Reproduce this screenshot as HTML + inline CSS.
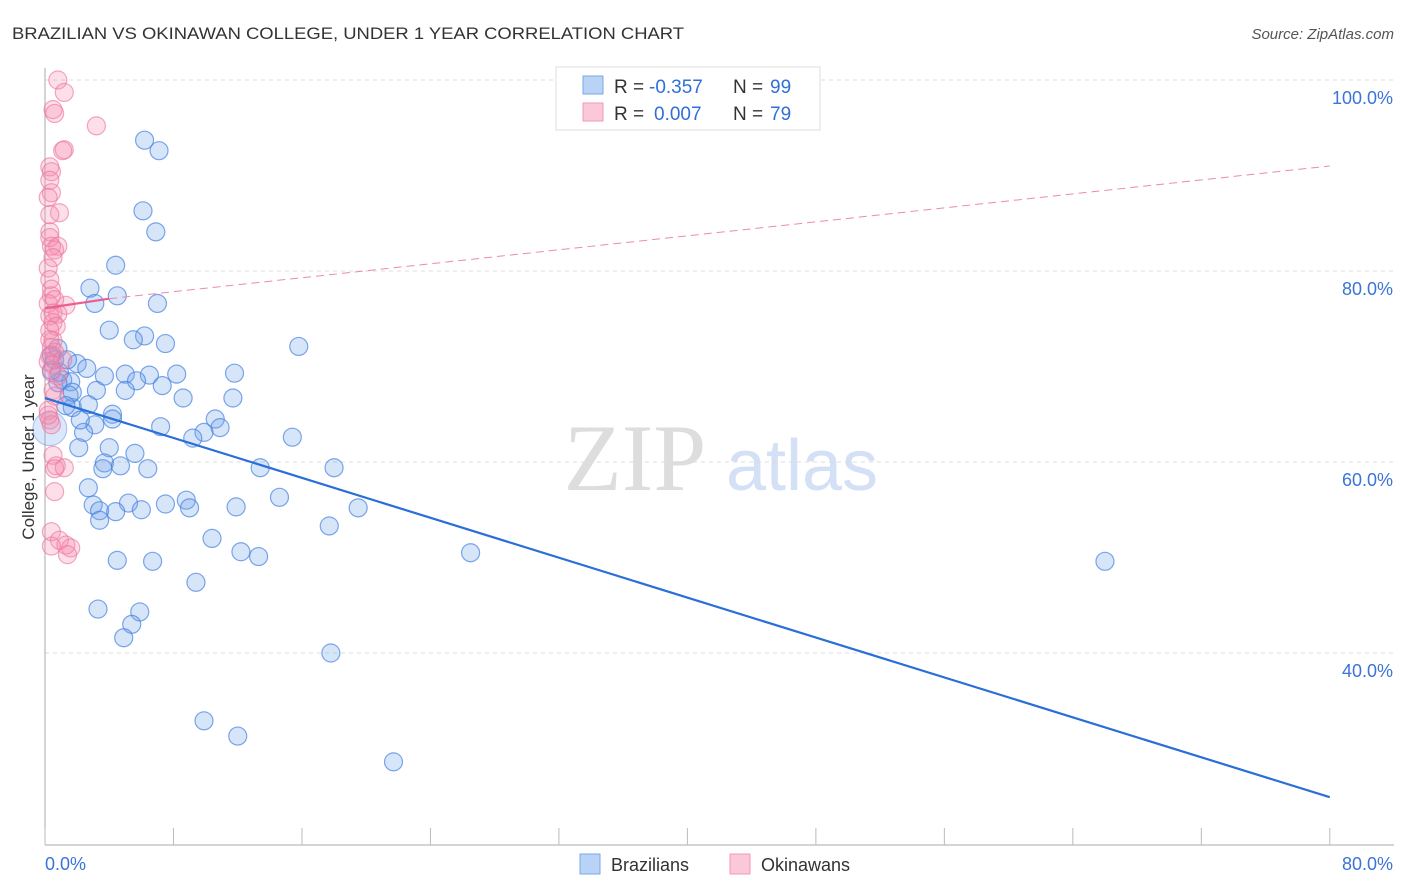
<!DOCTYPE html>
<html><head><meta charset="utf-8"><style>
body{margin:0;background:#fff;font-family:"Liberation Sans",sans-serif}
</style></head><body>
<svg id="c" width="1406" height="892" xmlns="http://www.w3.org/2000/svg" style="display:block">
<text x="12" y="39" font-size="17" fill="#333" textLength="672" lengthAdjust="spacingAndGlyphs">BRAZILIAN VS OKINAWAN COLLEGE, UNDER 1 YEAR CORRELATION CHART</text>
<text x="1394" y="39" font-size="15" fill="#555" font-style="italic" text-anchor="end">Source: ZipAtlas.com</text>
<text x="635" y="490" font-size="95" fill="#ddd" font-family="Liberation Serif" text-anchor="middle">ZIP</text>
<text x="802" y="490" font-size="72" fill="#d3e0f5" text-anchor="middle">atlas</text>
<g id="grid"></g><g id="axes"></g><g id="pts"></g><g id="trend"></g>
<text transform="translate(34,457) rotate(-90)" font-size="17" fill="#333" text-anchor="middle">College, Under 1 year</text>
<g>
<rect x="556" y="67" width="264" height="63" fill="#fff" stroke="#ddd"/>
<rect x="583" y="76" width="20" height="18" fill="#b9d3f6" stroke="#7aa7e6"/>
<rect x="583" y="103" width="20" height="18" fill="#fbc8d7" stroke="#f29ab8"/>
<text x="614" y="93" font-size="19" fill="#333">R =</text>
<text x="649" y="93" font-size="19" fill="#2f6fd6">-0.357</text>
<text x="733" y="93" font-size="19" fill="#333">N =</text>
<text x="770" y="93" font-size="19" fill="#2f6fd6">99</text>
<text x="614" y="120" font-size="19" fill="#333">R =</text>
<text x="654" y="120" font-size="19" fill="#2f6fd6">0.007</text>
<text x="733" y="120" font-size="19" fill="#333">N =</text>
<text x="770" y="120" font-size="19" fill="#2f6fd6">79</text>
</g>
<g>
<rect x="580" y="854" width="20" height="20" fill="#b9d3f6" stroke="#7aa7e6"/>
<text x="611" y="871" font-size="18" fill="#333">Brazilians</text>
<rect x="730" y="854" width="20" height="20" fill="#fbc8d7" stroke="#f29ab8"/>
<text x="761" y="871" font-size="18" fill="#333">Okinawans</text>
</g>
</svg>
<script>
const blueX=[6.2,7.1,6.1,6.9,4.4,2.8,4.5,3.1,7.0,4.0,6.2,5.5,7.5,15.8,0.8,0.4,0.6,2.0,2.6,3.7,5.0,6.5,8.2,11.8,5.7,7.3,1.1,1.6,0.8,3.2,5.0,8.6,11.7,1.5,2.7,1.7,4.2,10.6,4.2,3.1,7.2,10.9,9.9,9.2,15.4,2.4,2.1,4.0,5.6,3.7,3.6,4.7,6.4,13.4,18.0,2.7,14.6,3.0,5.2,8.8,7.5,9.0,11.9,19.5,3.4,4.4,6.0,3.4,17.7,10.4,12.2,13.3,26.5,4.5,6.7,66.0,9.4,3.3,5.9,5.4,4.9,17.8,9.9,12.0,21.7,0.4,0.9,1.4,1.7,1.3,2.2];
const blueY=[93.7,92.6,86.3,84.1,80.6,78.2,77.4,76.6,76.6,73.8,73.2,72.8,72.4,72.1,71.9,71.2,70.7,70.3,69.8,69.0,69.2,69.1,69.2,69.3,68.5,68.0,68.6,68.4,68.3,67.5,67.5,66.7,66.7,67.0,66.0,65.7,65.0,64.5,64.5,63.9,63.7,63.6,63.1,62.5,62.6,63.1,61.5,61.5,60.9,59.9,59.3,59.6,59.3,59.4,59.4,57.3,56.3,55.5,55.7,56.0,55.6,55.2,55.3,55.2,54.9,54.8,55.0,53.9,53.3,52.0,50.6,50.1,50.5,49.7,49.6,49.6,47.4,44.6,44.3,43.0,41.6,40.0,32.9,31.3,28.6,69.6,69.4,70.7,67.3,65.9,64.4];
const pinkX=[0.8,1.2,0.5,0.6,3.2,1.2,1.1,0.3,0.4,0.3,0.4,0.2,0.9,0.3,0.3,0.3,0.8,0.4,0.6,0.5,0.2,0.3,0.4,0.4,0.2,1.3,0.5,0.8,0.3,0.5,0.7,0.3,0.5,0.4,0.6,0.3,0.2,0.5,0.4,0.8,0.5,0.6,0.2,0.3,0.4,0.5,0.7,1.2,0.6,0.6,0.4,0.9,1.3,1.6,1.4,0.4,0.2,0.3,0.6,1.1];
const pinkY=[100,98.7,96.9,96.5,95.2,92.7,92.6,90.9,90.4,89.5,88.2,87.7,86.1,85.9,84.1,83.5,82.6,82.6,82.2,81.4,80.3,79.1,78.1,77.4,76.6,76.4,75.6,75.5,75.3,74.6,74.2,73.8,72.7,72.0,71.5,71.1,70.5,70.2,69.4,69.0,67.5,66.9,65.4,64.4,63.9,60.7,59.6,59.4,59.3,56.9,52.7,51.8,51.3,51.0,50.3,51.2,64.9,72.8,77.0,70.7];
const yTicks=[100,80,60,40];
const blueTrend=[[0,66.7],[80,24.9]];
const pinkTrend=[[0,76.1],[4,77.1],[80,91.0]];
const sx=v=>45+v*16.06, sy=v=>80+(100-v)*9.55;
const NS="http://www.w3.org/2000/svg";
function mk(p,t,a){const e=document.createElementNS(NS,t);for(const k in a)e.setAttribute(k,a[k]);p.appendChild(e);return e;}
const grid=document.getElementById('grid'),axes=document.getElementById('axes'),pts=document.getElementById('pts'),tr=document.getElementById('trend');
yTicks.forEach(v=>{const l=mk(grid,'line',{x1:45,x2:1394,y1:sy(v),y2:sy(v),stroke:'#ddd','stroke-dasharray':'4,4'});


const t=mk(grid,'text',{x:1393,y:sy(v)+24,'font-size':18,fill:'#3a74d8','text-anchor':'end'});t.textContent=v.toFixed(1)+'%';

});
const ya=mk(axes,'line',{x1:45,x2:45,y1:68,y2:845,stroke:'#aaa'});


const xa=mk(axes,'line',{x1:45,x2:1394,y1:845,y2:845,stroke:'#aaa'});


for(let i=0;i<=10;i++){const t=mk(axes,'line',{x1:sx(i*8),x2:sx(i*8),y1:828,y2:845,stroke:'#bbb'});

}
const x0=mk(axes,'text',{x:45,y:870,'font-size':18,fill:'#3a74d8'});x0.textContent='0.0%';


const x1=mk(axes,'text',{x:1393,y:870,'font-size':18,fill:'#3a74d8','text-anchor':'end'});x1.textContent='80.0%';


const big=mk(pts,'circle',{cx:sx(0.3),cy:sy(63.5),r:17,fill:'rgba(110,160,235,0.25)',stroke:'rgba(90,140,225,0.5)'});


blueX.forEach((x,i)=>{const c=mk(pts,'circle',{cx:sx(x),cy:sy(blueY[i]),r:9,fill:'rgba(110,160,235,0.28)',stroke:'rgba(70,130,225,0.7)','stroke-width':1.2});

});
pinkX.forEach((x,i)=>{const c=mk(pts,'circle',{cx:sx(x),cy:sy(pinkY[i]),r:9,fill:'rgba(245,140,175,0.28)',stroke:'rgba(238,120,160,0.65)','stroke-width':1.2});

});
const bl=mk(tr,'line',{x1:sx(blueTrend[0][0]),y1:sy(blueTrend[0][1]),x2:sx(blueTrend[1][0]),y2:sy(blueTrend[1][1]),stroke:'#2a6fd8','stroke-width':2.2});


const p1=mk(tr,'line',{x1:sx(pinkTrend[0][0]),y1:sy(pinkTrend[0][1]),x2:sx(pinkTrend[1][0]),y2:sy(pinkTrend[1][1]),stroke:'#e8608e','stroke-width':2.2});


const p2=mk(tr,'line',{x1:sx(pinkTrend[1][0]),y1:sy(pinkTrend[1][1]),x2:sx(pinkTrend[2][0]),y2:sy(pinkTrend[2][1]),stroke:'#ec8aaa','stroke-width':1,'stroke-dasharray':'8,5'});


</script>
</body></html>
